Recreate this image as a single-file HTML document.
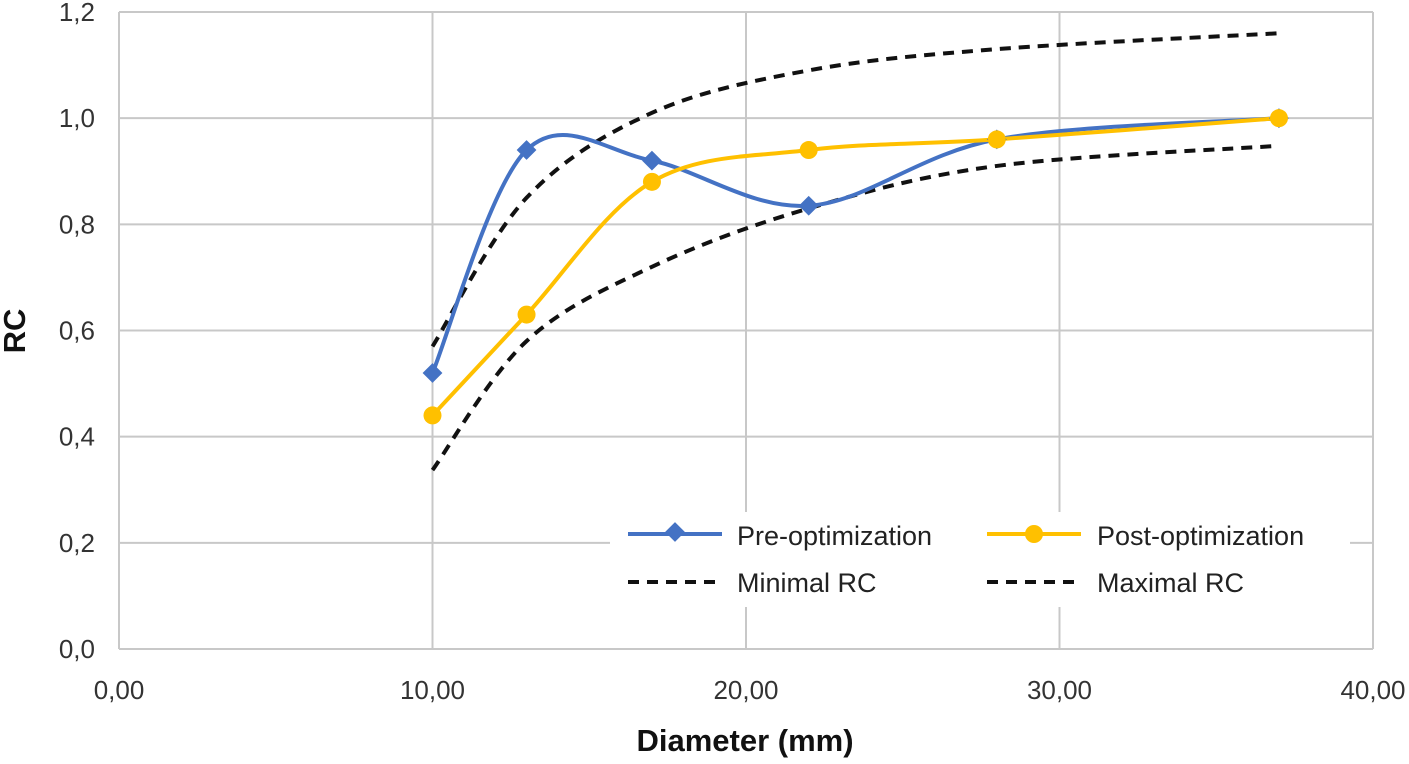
<!DOCTYPE html>
<html><head><meta charset="utf-8"><style>
body{margin:0;background:#fff;}
svg text{font-family:"Liberation Sans",sans-serif;}
</style></head><body>
<svg id="s" width="1409" height="759" viewBox="0 0 1409 759" xmlns="http://www.w3.org/2000/svg">
<g id="grid" stroke="#c8c8c8" stroke-width="2"></g>
<g id="lab" fill="#333" font-size="26"></g>
<text x="745" y="751" font-size="31" font-weight="bold" text-anchor="middle" fill="#111">Diameter (mm)</text>
<text transform="translate(25,331) rotate(-90)" font-size="31" font-weight="bold" text-anchor="middle" fill="#111">RC</text>
<g id="ser"></g>
<rect x="610" y="512" width="740" height="95" fill="#fff"/>
<line x1="628" y1="534" x2="722" y2="534" stroke="#4472c4" stroke-width="4"/>
<rect x="668" y="525" width="14" height="14" fill="#4472c4" transform="rotate(45 675 532)"/>
<text x="737" y="545" font-size="27" fill="#222">Pre-optimization</text>
<line x1="987" y1="534" x2="1081" y2="534" stroke="#ffc000" stroke-width="4"/>
<circle cx="1034" cy="534" r="9" fill="#ffc000"/>
<text x="1097" y="545" font-size="27" fill="#222">Post-optimization</text>
<line x1="628" y1="582" x2="722" y2="582" stroke="#111" stroke-width="4" stroke-dasharray="11,8"/>
<text x="737" y="592" font-size="27" fill="#222">Minimal RC</text>
<line x1="987" y1="582" x2="1081" y2="582" stroke="#111" stroke-width="4" stroke-dasharray="11,8"/>
<text x="1097" y="592" font-size="27" fill="#222">Maximal RC</text>
</svg>
<script>
const NS="http://www.w3.org/2000/svg";
const X=v=>119+v*31.35, Y=v=>649-v*637/1.2;
function el(p,t,a){const e=document.createElementNS(NS,t);for(const k in a)e.setAttribute(k,a[k]);p.appendChild(e);return e;}
const g=document.getElementById('grid'),l=document.getElementById('lab'),s=document.getElementById('ser');
for(let i=0;i<=6;i++){const y=Y(i*0.2);el(g,'line',{x1:119,x2:1373,y1:y,y2:y});
 el(l,'text',{x:95,y:y+9,'text-anchor':'end'}).textContent=(i*0.2).toFixed(1).replace('.',',');}
for(let i=0;i<=4;i++){const x=X(i*10);el(g,'line',{x1:x,x2:x,y1:12,y2:649});
 el(l,'text',{x:x,y:699,'text-anchor':'middle'}).textContent=(i*10).toFixed(2).replace('.',',');}
function path(pts){const P=pts.map(p=>[X(p[0]),Y(p[1])]);let d='M'+P[0];
 for(let i=0;i<P.length-1;i++){const p0=P[Math.max(0,i-1)],p1=P[i],p2=P[i+1],p3=P[Math.min(P.length-1,i+2)],t=1/3;
 const c1=[p1[0]+(p2[0]-p0[0])*t/2,p1[1]+(p2[1]-p0[1])*t/2],c2=[p2[0]-(p3[0]-p1[0])*t/2,p2[1]-(p3[1]-p1[1])*t/2];
 d+=' C'+c1+' '+c2+' '+p2;}return d;}
const xs=[10,13,17,22,28,37];
const mx=[0.57,0.85,1.01,1.09,1.13,1.16],mn=[0.337,0.58,0.72,0.83,0.91,0.948];
const pre=[0.52,0.94,0.92,0.835,0.96,1.0],post=[0.44,0.63,0.88,0.94,0.96,1.0];
[mx,mn].forEach(a=>el(s,'path',{d:path(xs.map((x,i)=>[x,a[i]])),fill:'none',stroke:'#111','stroke-width':4,'stroke-dasharray':'11,8'}));
el(s,'path',{d:path(xs.map((x,i)=>[x,pre[i]])),fill:'none',stroke:'#4472c4','stroke-width':4});
el(s,'path',{d:path(xs.map((x,i)=>[x,post[i]])),fill:'none',stroke:'#ffc000','stroke-width':4});
xs.forEach((x,i)=>{const cx=X(x),cy=Y(pre[i]);el(s,'rect',{x:cx-7,y:cy-7,width:14,height:14,fill:'#4472c4',transform:`rotate(45 ${cx} ${cy})`});});
xs.forEach((x,i)=>el(s,'circle',{cx:X(x),cy:Y(post[i]),r:9,fill:'#ffc000'}));
</script>
</body></html>
